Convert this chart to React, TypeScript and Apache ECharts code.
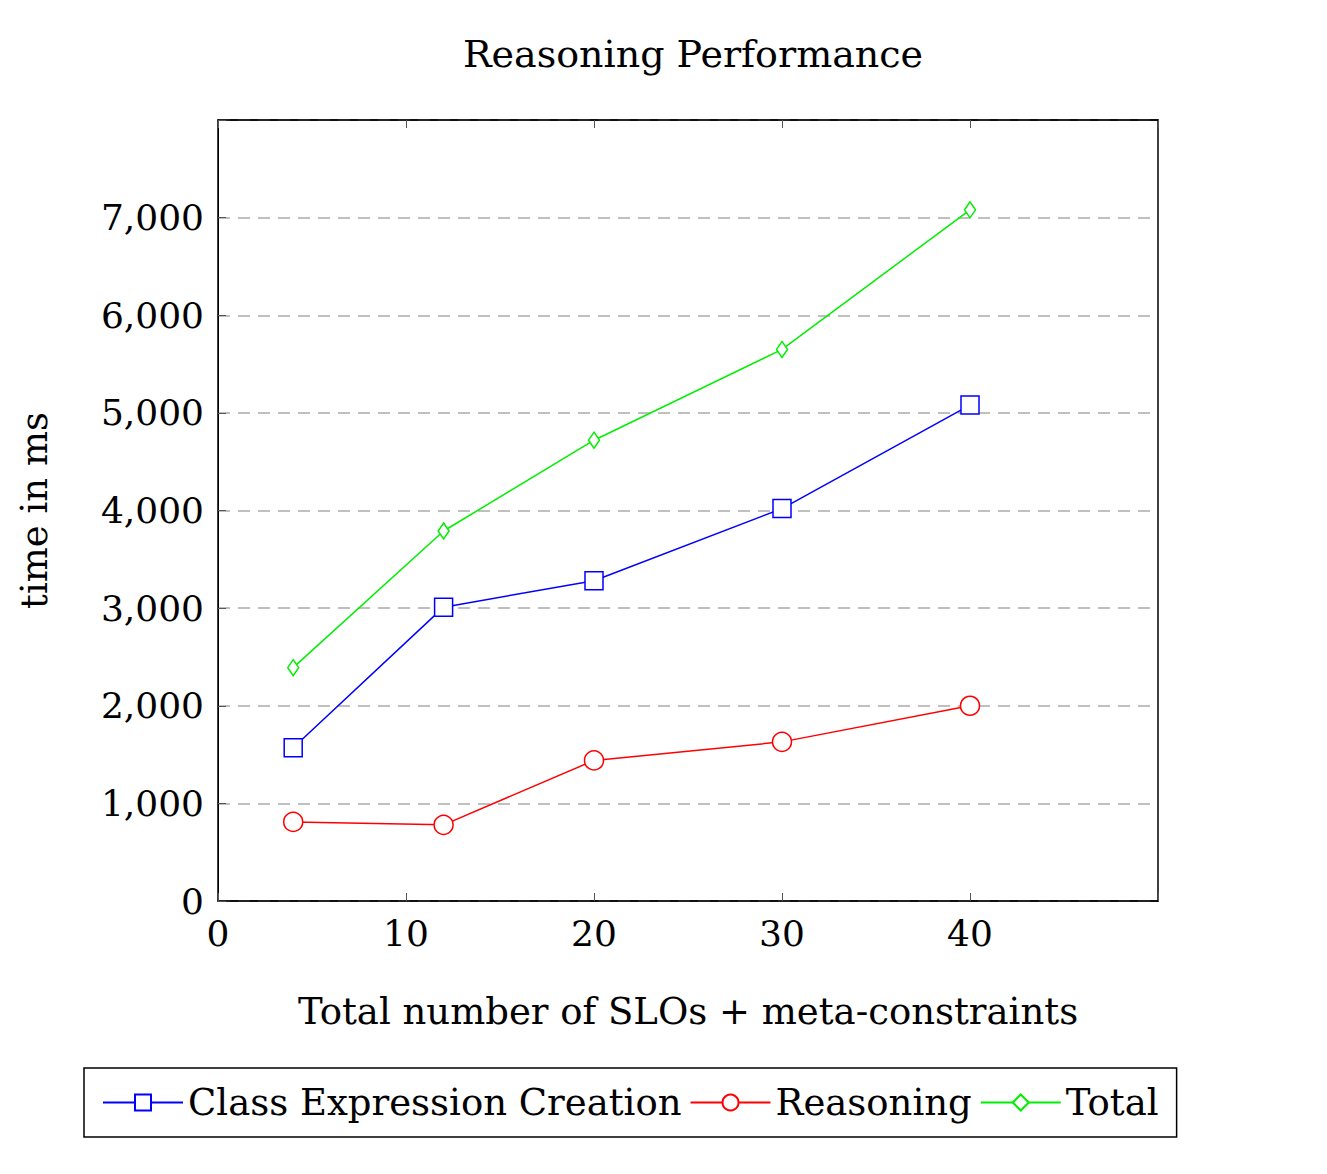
import { useEffect, useRef } from 'react';
import * as echarts from 'echarts';

const xValues = [4, 12, 20, 30, 40];
const classExpr = [1570, 3010, 3280, 4020, 5080];
const reasoning = [810, 780, 1440, 1630, 2000];
const total = [2390, 3790, 4720, 5650, 7080];

const FONT = '"DejaVu Serif", "Liberation Serif", serif';

const App = () => {
  const ref = useRef<HTMLDivElement>(null);

  useEffect(() => {
    if (!ref.current) return;
    const chart = echarts.init(ref.current, undefined, { renderer: 'svg' });
    const pair = (ys: number[]) => xValues.map((x, i) => [x, ys[i]]);
    const xAxisBase = {
      type: 'value' as const,
      min: 0,
      max: 50,
      interval: 10,
      axisLine: { show: true, lineStyle: { color: '#000', width: 1.5 } },
      axisTick: { show: true, inside: true, length: 8, lineStyle: { color: '#555' } },
      splitLine: { show: false },
    };
    chart.setOption({
      animation: false,
      backgroundColor: '#fff',
      textStyle: { fontFamily: FONT },
      title: {
        text: 'Reasoning Performance',
        left: 680,
        textAlign: 'center',
        top: 22,
        textStyle: { fontFamily: FONT, fontSize: 38, fontWeight: 'normal', color: '#000' },
      },
      grid: { left: 210, top: 112, width: 940, height: 781, show: true, borderColor: '#000', borderWidth: 1.5 },
      xAxis: [
        {
          ...xAxisBase,
          position: 'bottom',
          name: 'Total number of SLOs + meta-constraints',
          nameLocation: 'middle',
          nameGap: 92,
          nameTextStyle: { fontFamily: FONT, fontSize: 37, color: '#000' },
          axisLabel: {
            fontFamily: FONT,
            fontSize: 36,
            color: '#000',
            margin: 14,
            formatter: (v: number) => (v === 50 ? '' : String(v)),
          },
        },
        { ...xAxisBase, position: 'top', axisLabel: { show: false } },
      ],
      yAxis: {
        type: 'value',
        min: 0,
        max: 8000,
        interval: 1000,
        name: 'time in ms',
        nameLocation: 'middle',
        nameGap: 165,
        nameTextStyle: { fontFamily: FONT, fontSize: 37, color: '#000' },
        axisLine: { show: true, lineStyle: { color: '#000' } },
        axisTick: { show: true, inside: true, length: 8, lineStyle: { color: '#555' } },
        axisLabel: {
          fontFamily: FONT,
          fontSize: 36,
          color: '#000',
          margin: 14,
          formatter: (v: number) => (v === 8000 ? '' : v.toLocaleString('en-US')),
        },
        splitLine: { show: true, lineStyle: { color: '#aaa', type: [12, 8], width: 1.5 } },
      },
      legend: {
        left: 76,
        top: 1060,
        padding: [16, 18],
        borderColor: '#000',
        borderWidth: 1.5,
        backgroundColor: '#fff',
        itemWidth: 80,
        itemHeight: 20,
        itemGap: 8,
        textStyle: { fontFamily: FONT, fontSize: 37, color: '#000' },
        data: ['Class Expression Creation', 'Reasoning', 'Total'],
      },
      series: [
        {
          name: 'Class Expression Creation',
          type: 'line',
          data: pair(classExpr),
          symbol: 'rect',
          symbolSize: 18,
          itemStyle: { color: '#fff', borderColor: '#0000ff', borderWidth: 1.5 },
          lineStyle: { color: '#0000ff', width: 1.5 },
        },
        {
          name: 'Reasoning',
          type: 'line',
          data: pair(reasoning),
          symbol: 'circle',
          symbolSize: 19,
          itemStyle: { color: '#fff', borderColor: '#ff0000', borderWidth: 1.5 },
          lineStyle: { color: '#ff0000', width: 1.5 },
        },
        {
          name: 'Total',
          type: 'line',
          data: pair(total),
          symbol: 'diamond',
          symbolSize: [11, 16],
          itemStyle: { color: '#fff', borderColor: '#00ee00', borderWidth: 1.5 },
          lineStyle: { color: '#00ee00', width: 1.5 },
        },
      ],
    });
    return () => chart.dispose();
  }, []);

  return <div ref={ref} style={{ width: 1311, height: 1158 }} />;
};

export default App;
